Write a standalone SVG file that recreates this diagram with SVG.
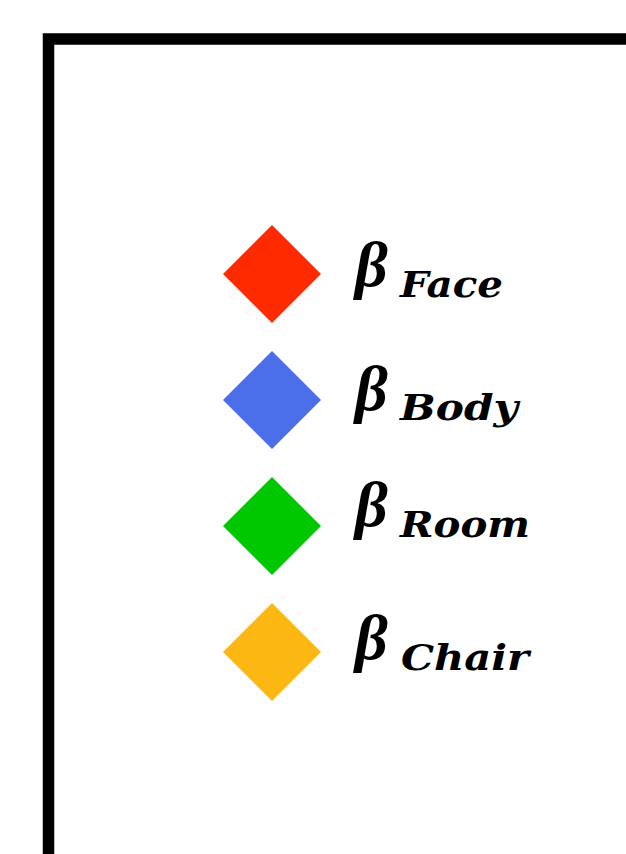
<svg xmlns="http://www.w3.org/2000/svg" width="626" height="854" viewBox="0 0 626 854">
<style>
.beta{font-family:"Liberation Serif","DejaVu Serif",serif;font-weight:bold;font-style:italic;font-size:64px;fill:#000}
.sub{font-family:"DejaVu Serif","Liberation Serif",serif;font-weight:bold;font-style:italic;font-size:35px;fill:#000}
</style>
<rect width="626" height="854" fill="#fff"/>
<rect id="frame" x="48.5" y="39" width="640" height="860" fill="none" stroke="#000" stroke-width="11.5"/>
<g id="face">
<polygon points="272,225 321,274 272,323 223,274" fill="#ff2a00"/>
<text class="beta" x="355" y="286">β</text>
<text class="sub" x="400" y="297" textLength="103" lengthAdjust="spacingAndGlyphs">Face</text>
</g>
<g id="body">
<polygon points="272,351 321,400 272,449 223,400" fill="#4a6fe8"/>
<text class="beta" x="355" y="410">β</text>
<text class="sub" x="400" y="420" textLength="118" lengthAdjust="spacingAndGlyphs">Body</text>
</g>
<g id="room">
<polygon points="272,477 321,526 272,575 223,526" fill="#00c800"/>
<text class="beta" x="355" y="526">β</text>
<text class="sub" x="400" y="537" textLength="130" lengthAdjust="spacingAndGlyphs">Room</text>
</g>
<g id="chair">
<polygon points="272,603 321,652 272,701 223,652" fill="#fdb713"/>
<text class="beta" x="355" y="659">β</text>
<text class="sub" x="401" y="670" textLength="128" lengthAdjust="spacingAndGlyphs">Chair</text>
</g>
</svg>
